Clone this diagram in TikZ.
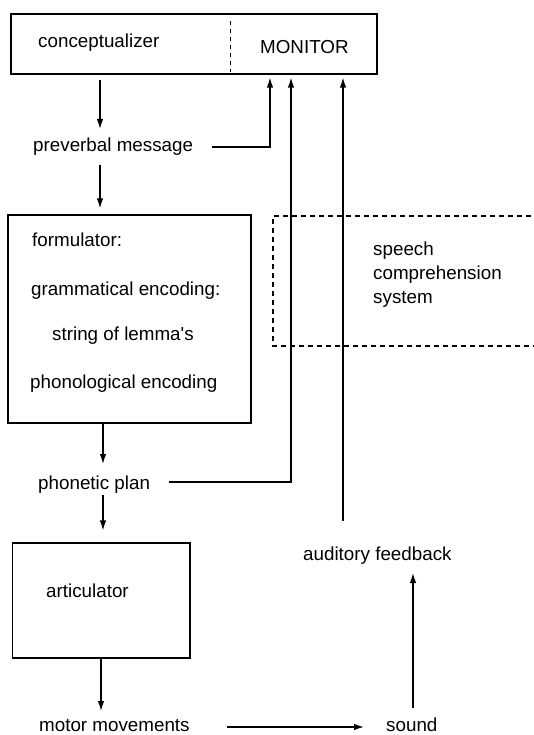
\documentclass[tikz,border=0pt]{standalone}
\usepackage{fontspec}
\setmainfont{Liberation Sans}
\usetikzlibrary{arrows.meta}
\begin{document}
\begin{tikzpicture}[x=1pt,y=-1pt,
  every node/.style={font=\fontsize{18.8}{22}\selectfont},
  lbl/.style={anchor=base west,inner sep=0pt},
  boxnode/.style={draw,line width=1.1pt,inner sep=0pt},
  arr/.style={line width=1.3pt,-{Latex[length=10pt,width=6.5pt]}},
  sepline/.style={line width=1pt,dash pattern=on 4pt off 4pt},
  scsline/.style={line width=1.1pt,dash pattern=on 5pt off 4pt}]
\useasboundingbox (0,0) rectangle (534,735);
% columns / rows
\coordinate (c1) at (100,0);
\coordinate (c2) at (103,0);
\coordinate (c3) at (101,0);
\coordinate (c7) at (413,0);
\coordinate (c8) at (343,0);
\coordinate (c9) at (291,0);
\coordinate (c10) at (270,0);
\coordinate (r6) at (0,727);
\coordinate (r9) at (0,482);
\coordinate (r10) at (0,147);
% boxes
\node[boxnode,minimum width=366pt,minimum height=60pt] (concbox) at (194,44) {};
\node[boxnode,minimum width=243pt,minimum height=208pt] (formbox) at (129.5,319) {};
\node[boxnode,minimum width=177.5pt,minimum height=115pt] (artbox) at (101.25,600.5) {};
\draw[sepline] (230,21) -- (230,72);
\draw[scsline] (540,216) -- (273,216) -- (273,346) -- (540,346);
% texts
\node[lbl] (conc) at (38,48) {conceptualizer};
\node[lbl] (mon) at (260,54) {MONITOR};
\node[lbl] (prev) at (33,152) {preverbal message};
\node[lbl] (form) at (32,246) {formulator:};
\node[lbl] (gram) at (31,295) {grammatical encoding:};
\node[lbl] (lem) at (52,340) {string of lemma\textquotesingle s};
\node[lbl] (phonol) at (30,388) {phonological encoding};
\node[lbl] (sp1) at (373,255) {speech};
\node[lbl] (sp2) at (373,279) {comprehension};
\node[lbl] (sp3) at (373,303) {system};
\node[lbl] (phon) at (38,489) {phonetic plan};
\node[lbl] (art) at (46,597) {articulator};
\node[lbl] (aud) at (303,560) {auditory feedback};
\node[lbl] (motor) at (39,731) {motor movements};
\node[lbl] (sound) at (386,731) {sound};
% connectors
\draw[arr,shorten <=5pt,shorten >=23pt] (concbox.south -| c1) -- (prev.base -| c1);
\draw[arr,shorten <=13pt,shorten >=6pt] (prev.base -| c1) -- (formbox.north -| c1);
\draw[arr,shorten >=25pt] (formbox.south -| c2) -- (phon.base -| c2);
\draw[arr,shorten <=6pt,shorten >=12pt] (phon.base -| c2) -- (artbox.north -| c2);
\draw[arr,shorten >=20pt] (artbox.south -| c3) -- (motor.base -| c3);
\draw[arr,shorten <=37pt,shorten >=22pt] (motor.east |- r6) -- (sound.west |- r6);
\draw[arr,shorten <=23pt,shorten >=13pt] (sound.base -| c7) -- (aud.base -| c7);
\draw[arr,shorten <=39pt,shorten >=3pt] (aud.base -| c8) -- (concbox.south -| c8);
\draw[arr,shorten <=19pt,shorten >=3pt] (phon.east |- r9) -| (concbox.south -| c9);
\draw[arr,shorten <=19pt,shorten >=3pt] (prev.east |- r10) -| (concbox.south -| c10);
\end{tikzpicture}
\end{document}
